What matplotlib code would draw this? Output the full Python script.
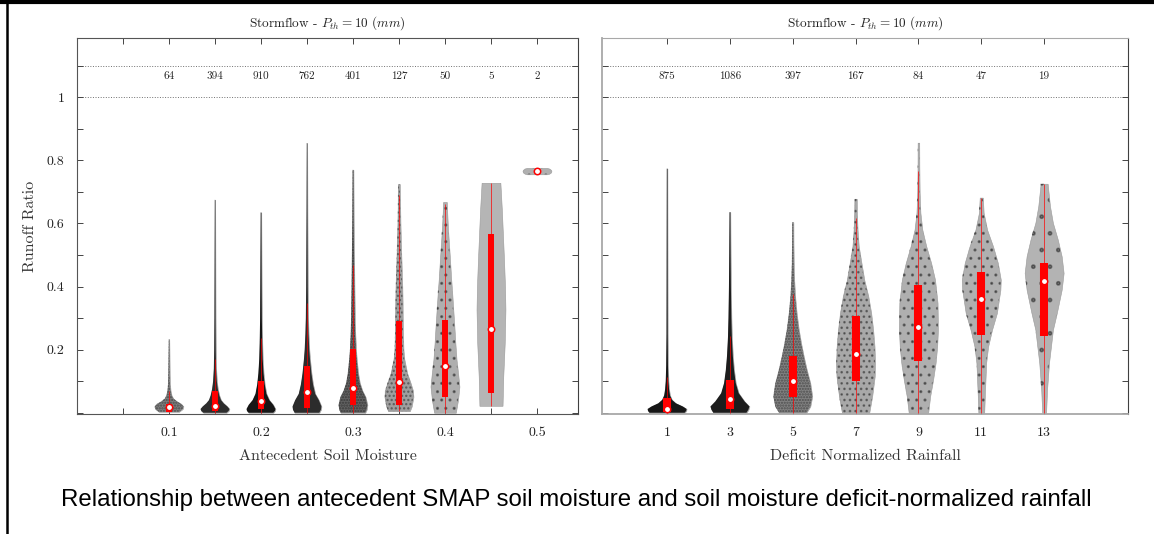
import numpy as np
import matplotlib.pyplot as plt
from matplotlib.lines import Line2D
from matplotlib.patches import Polygon

plt.rcParams['font.family'] = 'cmr10'
plt.rcParams['mathtext.fontset'] = 'cm'
plt.rcParams['axes.formatter.use_mathtext'] = True
plt.rcParams['hatch.linewidth'] = 1.1

# ---- antecedent soil moisture panel ----
sm_pos = [0.10, 0.15, 0.20, 0.25, 0.30, 0.35, 0.40, 0.45, 0.50]
sm_n = [64, 394, 910, 762, 401, 127, 50, 5, 2]
sm_q1 = [0.003, 0.004, 0.011, 0.014, 0.024, 0.024, 0.050, 0.063, 0.765]
sm_med = [0.017, 0.022, 0.038, 0.065, 0.078, 0.097, 0.147, 0.265, 0.766]
sm_q3 = [0.029, 0.070, 0.102, 0.147, 0.202, 0.290, 0.295, 0.568, 0.767]
# violin outline: runoff ratio levels and relative width at each level
sm_prof_y = [
    [0.003, 0.012, 0.02, 0.028, 0.036, 0.045, 0.055, 0.07, 0.09, 0.12, 0.16, 0.20, 0.233],
    [0.0, 0.006, 0.012, 0.02, 0.03, 0.04, 0.055, 0.075, 0.10, 0.14, 0.2, 0.3, 0.45, 0.6, 0.675],
    [0.0, 0.006, 0.012, 0.025, 0.04, 0.06, 0.09, 0.125, 0.17, 0.22, 0.3, 0.4, 0.5, 0.635],
    [0.0, 0.01, 0.02, 0.04, 0.06, 0.09, 0.125, 0.17, 0.2, 0.25, 0.3, 0.4, 0.5, 0.65, 0.855],
    [0.0, 0.01, 0.025, 0.05, 0.07, 0.095, 0.125, 0.17, 0.2, 0.25, 0.3, 0.4, 0.5, 0.6, 0.77],
    [0.005, 0.02, 0.05, 0.07, 0.095, 0.125, 0.17, 0.2, 0.25, 0.3, 0.35, 0.4, 0.5, 0.6, 0.725],
    [0.0, 0.04, 0.083, 0.12, 0.168, 0.22, 0.274, 0.33, 0.38, 0.43, 0.485, 0.54, 0.59, 0.64, 0.668],
    [0.022, 0.115, 0.22, 0.327, 0.4, 0.486, 0.56, 0.645, 0.729],
    [0.756, 0.758, 0.762, 0.766, 0.770, 0.774, 0.776],
]
sm_prof_w = [
    [0.7, 0.95, 1.0, 0.85, 0.55, 0.3, 0.18, 0.11, 0.07, 0.05, 0.04, 0.03, 0.02],
    [0.8, 0.95, 1.0, 0.85, 0.6, 0.42, 0.3, 0.2, 0.13, 0.08, 0.055, 0.04, 0.03, 0.02, 0.015],
    [0.85, 0.97, 1.0, 0.85, 0.58, 0.38, 0.26, 0.18, 0.12, 0.09, 0.06, 0.045, 0.035, 0.02],
    [0.85, 0.97, 1.0, 0.82, 0.57, 0.42, 0.31, 0.21, 0.16, 0.11, 0.08, 0.055, 0.045, 0.03, 0.015],
    [0.85, 0.95, 1.0, 0.87, 0.65, 0.47, 0.36, 0.26, 0.21, 0.16, 0.13, 0.1, 0.075, 0.05, 0.03],
    [0.75, 0.88, 1.0, 0.97, 0.8, 0.57, 0.37, 0.31, 0.28, 0.26, 0.25, 0.23, 0.16, 0.1, 0.06],
    [0.75, 0.9, 1.0, 0.92, 0.8, 0.72, 0.65, 0.57, 0.5, 0.42, 0.35, 0.27, 0.2, 0.15, 0.13],
    [0.8, 0.85, 0.95, 1.0, 0.97, 0.9, 0.83, 0.75, 0.65],
    [0.7, 0.85, 0.97, 1.0, 0.97, 0.85, 0.7],
]
sm_xticks = [0.1, 0.2, 0.3, 0.4, 0.5]
sm_xlabels = ['0.1', '0.2', '0.3', '0.4', '0.5']
sm_xminor = [0.05, 0.15, 0.25, 0.35, 0.45]

# ---- deficit normalized rainfall panel ----
dn_pos = [1, 3, 5, 7, 9, 11, 13]
dn_n = [875, 1086, 397, 167, 84, 47, 19]
dn_q1 = [0.003, 0.012, 0.049, 0.100, 0.163, 0.248, 0.243]
dn_med = [0.011, 0.043, 0.102, 0.187, 0.271, 0.360, 0.417]
dn_q3 = [0.047, 0.105, 0.180, 0.307, 0.405, 0.447, 0.474]
dn_prof_y = [
    [0.0, 0.006, 0.012, 0.02, 0.03, 0.041, 0.055, 0.075, 0.1, 0.15, 0.25, 0.4, 0.6, 0.774],
    [0.0, 0.01, 0.02, 0.036, 0.062, 0.094, 0.136, 0.18, 0.24, 0.3, 0.4, 0.5, 0.636],
    [0.0, 0.02, 0.052, 0.094, 0.136, 0.18, 0.22, 0.263, 0.316, 0.37, 0.42, 0.475, 0.54, 0.604],
    [0.0, 0.052, 0.115, 0.158, 0.21, 0.263, 0.316, 0.37, 0.42, 0.475, 0.528, 0.58, 0.63, 0.678],
    [0.0, 0.052, 0.104, 0.158, 0.21, 0.263, 0.348, 0.422, 0.475, 0.528, 0.58, 0.634, 0.7, 0.78, 0.856],
    [0.0, 0.052, 0.158, 0.21, 0.263, 0.316, 0.39, 0.422, 0.475, 0.528, 0.58, 0.634, 0.682],
    [0.0, 0.073, 0.158, 0.21, 0.263, 0.316, 0.39, 0.443, 0.496, 0.549, 0.602, 0.655, 0.726],
]
dn_prof_w = [
    [0.9, 0.98, 1.0, 0.8, 0.45, 0.25, 0.15, 0.1, 0.07, 0.045, 0.03, 0.025, 0.02, 0.015],
    [0.85, 0.95, 1.0, 0.75, 0.45, 0.3, 0.21, 0.15, 0.1, 0.075, 0.05, 0.035, 0.02],
    [0.7, 0.9, 1.0, 0.9, 0.72, 0.56, 0.43, 0.31, 0.2, 0.12, 0.075, 0.05, 0.035, 0.03],
    [0.7, 0.85, 0.98, 1.0, 0.97, 0.9, 0.8, 0.65, 0.45, 0.3, 0.16, 0.1, 0.07, 0.06],
    [0.5, 0.6, 0.75, 0.88, 0.96, 1.0, 0.98, 0.85, 0.65, 0.4, 0.2, 0.1, 0.06, 0.045, 0.04],
    [0.15, 0.18, 0.25, 0.35, 0.55, 0.8, 0.98, 1.0, 0.85, 0.6, 0.3, 0.12, 0.08],
    [0.1, 0.15, 0.25, 0.35, 0.45, 0.65, 0.9, 1.0, 0.9, 0.7, 0.45, 0.3, 0.18],
]
dn_xticks = [1, 3, 5, 7, 9, 11, 13]
dn_xlabels = ['1', '3', '5', '7', '9', '11', '13']

y_major = [0.2, 0.4, 0.6, 0.8, 1.0]
y_labels = ['0.2', '0.4', '0.6', '0.8', '1']
y_minor = [0.0, 0.1, 0.3, 0.5, 0.7, 0.9, 1.1]

title = r'Stormflow - $P_{th} = 10$ $(mm)$'
caption = ('Relationship between antecedent SMAP soil moisture and soil '
           'moisture deficit-normalized rainfall')


def draw_violins(ax, pos, n, prof_y, prof_w, q1, med, q3, halfw, boxlw):
    bb = ax.get_window_extent()
    x0, x1 = ax.get_xlim()
    y0, y1 = ax.get_ylim()
    px_area = (bb.width / (x1 - x0)) * (bb.height / (y1 - y0))
    for x, cnt, ys, ws, a, m, b in zip(pos, n, prof_y, prof_w, q1, med, q3):
        ys = np.array(ys)
        ws = np.array(ws) * halfw
        ax.fill_betweenx(ys, x - ws, x + ws, facecolor='#b5b5b5',
                         edgecolor='#9a9a9a', lw=0.4, zorder=2)
        # the jittered points: darkness and dot spacing follow points per pixel
        area = np.trapezoid(2 * ws, ys) * px_area
        dens = cnt / max(area, 1.0)
        dark = min(0.88, 1 - np.exp(-2.2 * dens))
        ax.fill_betweenx(ys, x - ws, x + ws, facecolor='black',
                         alpha=dark, lw=0, zorder=3)
        if 0.004 < dens < 0.4:
            k = int(np.clip(round(100 / 6 * np.sqrt(dens)), 1, 6))
            verts = np.r_[np.c_[x - ws, ys], np.c_[x + ws, ys][::-1]]
            ax.add_patch(Polygon(verts, closed=True, facecolor='none',
                                 edgecolor=(0, 0, 0, 0.38), lw=0,
                                 hatch='.' * k, zorder=3))
        iqr = b - a
        lo = max(ys[0], a - 1.5 * iqr)
        hi = min(ys[-1], b + 1.5 * iqr)
        ax.vlines(x, lo, hi, color='red', lw=0.7, alpha=0.7, zorder=4)
        ax.vlines(x, a, b, color='red', lw=boxlw, capstyle='butt', zorder=5)
        ax.plot(x, m, 'o', ms=4.6, mfc='white', mec='red', mew=1.1, zorder=6)
        ax.text(x, 1.067, str(cnt), ha='center', va='center', fontsize=8,
                color='#222222')


def style_axes(ax, dark, light):
    ax.set_ylim(-0.004, 1.188)
    ax.axhline(1.0, ls=':', color='#707070', lw=0.7, zorder=1)
    ax.axhline(1.1, ls=':', color='#707070', lw=0.7, zorder=1)
    ax.set_yticks(y_major)
    ax.set_yticks(y_minor, minor=True)
    ax.tick_params(which='both', direction='in', top=True, right=True,
                   length=4, width=0.7, color='#444444', labelsize=10,
                   labelcolor='#222222', pad=9)
    ax.set_title(title, fontsize=9.5, pad=8, color='#222222')
    for side in ['left', 'bottom', 'top']:
        ax.spines[side].set_color(light)
    ax.spines['right'].set_color(dark)


fig = plt.figure(figsize=(11.54, 5.34), dpi=100)
ax1 = fig.add_axes([0.0667, 0.2247, 0.4341, 0.7041])
ax2 = fig.add_axes([0.5217, 0.2247, 0.4558, 0.7041])

ax1.set_xlim(0.0, 0.5445)
style_axes(ax1, '#404040', '#555555')
ax1.set_yticklabels(y_labels)
ax1.set_xticks(sm_xticks, sm_xlabels)
ax1.set_xticks(sm_xminor, minor=True)
ax1.set_xlabel('Antecedent Soil Moisture', fontsize=11.5, labelpad=8,
               color='#333333')
ax1.set_ylabel('Runoff Ratio', fontsize=11.5, labelpad=7, color='#333333')
draw_violins(ax1, sm_pos, sm_n, sm_prof_y, sm_prof_w, sm_q1, sm_med, sm_q3,
             0.0157, 4.3)

ax2.set_xlim(-1.07, 15.67)
style_axes(ax2, '#404040', '#a8a8a8')
ax2.spines['left'].set_linewidth(1.3)
ax2.spines['bottom'].set_linewidth(1.3)
ax2.set_yticklabels([])
ax2.set_xticks(dn_xticks, dn_xlabels)
ax2.set_xlabel('Deficit Normalized Rainfall', fontsize=11.5, labelpad=8,
               color='#333333')
draw_violins(ax2, dn_pos, dn_n, dn_prof_y, dn_prof_w, dn_q1, dn_med, dn_q3,
             0.62, 5.8)

fig.text(0.499, 1 - 500 / 534, caption, ha='center', va='center',
         family='Liberation Sans', fontsize=17.3)

# frame lines of the original screenshot
fig.add_artist(Line2D([0, 1], [1 - 2 / 534, 1 - 2 / 534], color='black',
                      lw=3, transform=fig.transFigure))
fig.add_artist(Line2D([6.5 / 1154, 6.5 / 1154], [0, 1], color='black',
                      lw=1.8, transform=fig.transFigure))

fig.savefig('out.png', dpi=100)
